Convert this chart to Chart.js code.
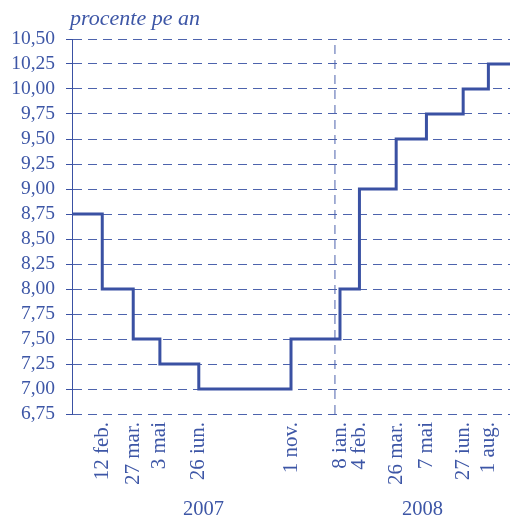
<!DOCTYPE html>
<html lang="ro">
<head>
<meta charset="UTF-8">
<title>Rata dobânzii</title>
<script src="https://cdn.jsdelivr.net/npm/chart.js"></script>
<style>
  body { margin: 0; padding: 0; background: #fff; }
  #wrap { width: 510px; height: 518px; position: relative; }
</style>
</head>
<body>
<div id="wrap"><canvas id="chart"></canvas></div>
<script>
  // data
  const startDate = '2007-01-01';
  const endDate = '2008-08-31';
  const startRate = 8.75;
  const changeDates = ['2007-02-12', '2007-03-27', '2007-05-03', '2007-06-26', '2007-11-01',
    '2008-01-08', '2008-02-04', '2008-03-26', '2008-05-07', '2008-06-27', '2008-08-01'];
  const rates = [8.00, 7.50, 7.25, 7.00, 7.50, 8.00, 9.00, 9.50, 9.75, 10.00, 10.25];
  const tickLabels = ['12 feb.', '27 mar.', '3 mai', '26 iun.', '1 nov.', '8 ian.', '4 feb.',
    '26 mar.', '7 mai', '27 iun.', '1 aug.'];
  const years = ['2007', '2008'];
  const yearBreak = '2008-01-01';
  const yMin = 6.75, yMax = 10.5, yStep = 0.25;

  const blue = '#3a51a3';
  const textBlue = '#3d56a6';
  const gridBlue = '#4d63ad';
  const font = 'Liberation Serif';

  const t = s => new Date(s).getTime();
  const xMin = t(startDate), xMax = t(endDate);

  const points = [{ x: xMin, y: startRate }];
  changeDates.forEach((d, i) => points.push({ x: t(d), y: rates[i] }));
  points.push({ x: xMax, y: rates[rates.length - 1] });

  const yearTicks = [(xMin + t(yearBreak)) / 2, (t(yearBreak) + xMax) / 2];

  const titlePlugin = {
    id: 'unitTitle',
    afterDraw(chart) {
      const ctx = chart.ctx;
      ctx.save();
      ctx.font = 'italic 22px "' + font + '"';
      ctx.fillStyle = textBlue;
      ctx.textAlign = 'left';
      ctx.textBaseline = 'alphabetic';
      ctx.fillText('procente pe an', chart.chartArea.left - 2, 25);
      ctx.restore();
    }
  };

  new Chart(document.getElementById('chart'), {
    type: 'line',
    data: {
      datasets: [{
        data: points,
        borderColor: blue,
        borderWidth: 3,
        stepped: true,
        pointRadius: 0,
        fill: false
      }, {
        data: [{ x: t(yearBreak), y: yMin }, { x: t(yearBreak), y: yMax }],
        borderColor: gridBlue,
        borderWidth: 1,
        borderDash: [9, 6],
        pointRadius: 0,
        fill: false
      }]
    },
    options: {
      responsive: true,
      maintainAspectRatio: false,
      animation: false,
      layout: { padding: { top: 39, right: 0, bottom: 0, left: 0 } },
      plugins: { legend: { display: false }, tooltip: { enabled: false } },
      scales: {
        x: {
          type: 'linear',
          position: 'bottom',
          weight: 0,
          min: xMin,
          max: xMax,
          afterBuildTicks: axis => { axis.ticks = changeDates.map(d => ({ value: t(d) })); },
          afterFit: axis => { axis.height = 82; axis.paddingLeft = 0; axis.paddingRight = 0; },
          grid: { display: false, drawTicks: false },
          border: { display: false },
          ticks: {
            autoSkip: false,
            minRotation: 90,
            maxRotation: 90,
            padding: 8,
            color: textBlue,
            font: { family: font, size: 21 },
            callback: (v, i) => tickLabels[i]
          }
        },
        years: {
          type: 'linear',
          position: 'bottom',
          weight: 1,
          min: xMin,
          max: xMax,
          afterBuildTicks: axis => { axis.ticks = yearTicks.map(v => ({ value: v })); },
          afterFit: axis => { axis.height = 22; axis.paddingLeft = 0; axis.paddingRight = 0; },
          grid: { display: false, drawTicks: false },
          border: { display: false },
          ticks: {
            autoSkip: false,
            maxRotation: 0,
            padding: 1,
            color: textBlue,
            font: { family: font, size: 20.5 },
            callback: (v, i) => years[i]
          }
        },
        y: {
          min: yMin,
          max: yMax,
          afterFit: axis => { axis.width = 72; },
          border: { display: true, color: blue, width: 1, dash: [9, 6] },
          grid: {
            color: gridBlue,
            lineWidth: 1,
            tickLength: 6,
            tickColor: blue,
            tickBorderDash: []
          },
          ticks: {
            stepSize: yStep,
            autoSkip: false,
            padding: 11,
            color: textBlue,
            font: { family: font, size: 19.5 },
            callback: v => v.toFixed(2).replace('.', ',')
          }
        }
      }
    },
    plugins: [titlePlugin]
  });
</script>
</body>
</html>
